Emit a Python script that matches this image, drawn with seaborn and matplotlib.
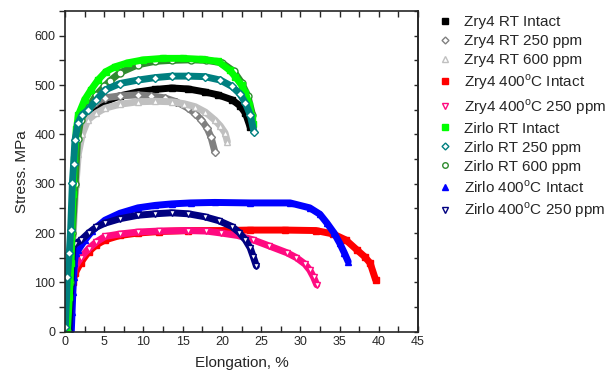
import pandas as pd
import matplotlib
matplotlib.use('Agg')
import matplotlib.pyplot as plt
from matplotlib.lines import Line2D
from matplotlib.ticker import MultipleLocator
import seaborn as sns

# Stress-strain curves (elongation %, stress MPa)
zry4_rt_intact_x = [0.2, 0.6, 0.95, 1.3, 1.6, 2.0, 2.9, 4.0, 5.1, 7.0, 9.3, 11.5, 13.6, 15.7, 17.8, 19.5, 21.3, 22.3, 23.0, 23.6]
zry4_rt_intact_y = [0, 100, 200, 300, 380, 420, 443, 456, 466, 478, 486, 491, 494, 492, 486, 480, 470, 458, 443, 415]

zry4_rt_250_x = [0.2, 0.6, 0.95, 1.3, 1.6, 2.0, 2.9, 4.0, 5.1, 7.0, 9.3, 11.0, 12.7, 14.2, 15.7, 16.6, 17.4, 18.1, 18.6, 19.1]
zry4_rt_250_y = [0, 100, 200, 300, 375, 415, 450, 465, 474, 478, 480, 478, 474, 466, 453, 442, 429, 413, 395, 365]

zry4_rt_600_x = [0.3, 0.7, 1.05, 1.4, 1.7, 2.2, 2.9, 4.0, 5.1, 7.0, 9.3, 11.5, 13.6, 15.2, 16.6, 17.9, 19.1, 19.8, 20.4, 20.7]
zry4_rt_600_y = [0, 100, 200, 300, 360, 400, 429, 443, 453, 461, 466, 467, 466, 462, 456, 445, 429, 417, 403, 385]

zry4_400_intact_x = [0.4, 0.7, 1.0, 1.3, 2.0, 3.0, 4.0, 5.1, 7.0, 9.3, 12.0, 15.7, 20.0, 23.6, 28.0, 32.0, 34.2, 35.8, 37.2, 38.2, 38.9, 39.6]
zry4_400_intact_y = [0, 50, 100, 119, 140, 162, 176, 186, 195, 200, 203, 205, 205, 206, 206, 205, 198, 186, 166, 152, 139, 105]

zry4_400_250_x = [0.3, 0.6, 0.9, 1.3, 2.0, 3.0, 4.0, 5.1, 7.0, 9.3, 12.0, 15.7, 18.0, 19.9, 22.0, 24.0, 26.0, 28.3, 29.5, 30.6, 31.2, 31.7, 32.1]
zry4_400_250_y = [0, 50, 100, 132, 150, 168, 182, 193, 198, 202, 204, 205, 204, 200, 195, 186, 174, 160, 150, 137, 125, 110, 95]

zirlo_rt_intact_x = [0.3, 0.55, 0.75, 1.0, 1.2, 1.45, 1.7, 2.5, 3.3, 4.2, 5.2, 6.4, 8.0, 10.0, 12.5, 15.0, 17.5, 19.5, 21.0, 21.7, 22.5, 23.0, 23.5, 23.8, 24.0]
zirlo_rt_intact_y = [0, 70, 140, 280, 350, 410, 439, 470, 490, 510, 527, 537, 545, 551, 554, 554, 552, 548, 530, 517, 500, 484, 460, 436, 420]

zirlo_rt_250_x = [0.05, 0.3, 0.55, 0.72, 0.94, 1.1, 1.27, 1.66, 2.2, 2.9, 4.0, 5.1, 7.0, 9.3, 11.5, 13.6, 15.7, 17.8, 19.8, 21.3, 22.3, 23.0, 23.6, 24.1]
zirlo_rt_250_y = [10, 111, 160, 206, 301, 340, 388, 423, 440, 449, 470, 490, 503, 510, 515, 518, 518, 517, 510, 497, 482, 463, 440, 405]

zirlo_rt_600_x = [0.2, 0.6, 0.95, 1.3, 1.6, 2.0, 3.0, 4.0, 5.0, 5.7, 7.0, 9.3, 11.5, 13.6, 16.0, 18.0, 20.0, 21.5, 22.5, 23.3, 23.9]
zirlo_rt_600_y = [0, 100, 200, 300, 390, 430, 455, 480, 497, 508, 525, 541, 548, 550, 551, 550, 545, 528, 505, 478, 440]

zirlo_400_intact_x = [0.8, 0.9, 1.0, 1.1, 1.2, 1.36, 1.7, 2.5, 3.5, 5.1, 7.0, 9.3, 11.5, 13.6, 16.0, 19.1, 23.6, 28.7, 31.2, 32.5, 33.4, 34.3, 35.0, 35.6, 36.1]
zirlo_400_intact_y = [0, 40, 80, 110, 140, 159, 166, 185, 205, 226, 240, 251, 256, 259, 261, 262, 261, 261, 251, 238, 220, 200, 180, 160, 142]

zirlo_400_250_x = [0.5, 0.75, 1.0, 1.3, 2.0, 3.0, 4.0, 5.1, 7.0, 9.3, 11.5, 13.6, 15.7, 17.8, 19.6, 21.3, 22.2, 23.0, 23.6, 24.0, 24.4]
zirlo_400_250_y = [0, 90, 172, 178, 185, 200, 212, 220, 229, 236, 239, 241, 239, 233, 225, 213, 201, 186, 170, 152, 133]

labels = ['Zry4 RT Intact', 'Zry4 RT 250 ppm', 'Zry4 RT 600 ppm',
          'Zry4 400$^\\mathrm{o}$C Intact', 'Zry4 400$^\\mathrm{o}$C 250 ppm',
          'Zirlo RT Intact', 'Zirlo RT 250 ppm', 'Zirlo RT 600 ppm',
          'Zirlo 400$^\\mathrm{o}$C Intact', 'Zirlo 400$^\\mathrm{o}$C 250 ppm']

curves = [
    (zry4_rt_intact_x, zry4_rt_intact_y),
    (zry4_rt_250_x, zry4_rt_250_y),
    (zry4_rt_600_x, zry4_rt_600_y),
    (zry4_400_intact_x, zry4_400_intact_y),
    (zry4_400_250_x, zry4_400_250_y),
    (zirlo_rt_intact_x, zirlo_rt_intact_y),
    (zirlo_rt_250_x, zirlo_rt_250_y),
    (zirlo_rt_600_x, zirlo_rt_600_y),
    (zirlo_400_intact_x, zirlo_400_intact_y),
    (zirlo_400_250_x, zirlo_400_250_y),
]

# colour, marker, filled, draw order
styles = [
    ('#000000', 's', True, 2.0),
    ('#808080', 'D', False, 2.0),
    ('#c0c0c0', '^', False, 2.0),
    ('#ff0000', 's', True, 2.0),
    ('#ff0a80', 'v', False, 2.0),
    ('#00ff00', 's', True, 2.3),
    ('#008080', 'D', False, 2.4),
    ('#2e8b2e', 'o', False, 2.2),
    ('#0000ff', '^', True, 2.0),
    ('#000080', 'v', False, 2.0),
]

sns.set_style('ticks')
plt.rcParams['font.family'] = ['Liberation Sans', 'DejaVu Sans']
plt.rcParams['mathtext.fontset'] = 'custom'
plt.rcParams['mathtext.rm'] = 'Liberation Sans'

fig = plt.figure(figsize=(6.05, 3.83), dpi=100)
ax = fig.add_axes([65 / 605, 1 - 331.7 / 383, 353 / 605, 320.7 / 383])

for (xs, ys), (col, mk, filled, z) in zip(curves, styles):
    df = pd.DataFrame({'x': xs, 'y': ys})
    sns.lineplot(data=df, x='x', y='y', ax=ax, sort=False, estimator=None,
                 color=col, linewidth=5, marker=mk, markersize=5 if mk != 'D' else 4,
                 markerfacecolor=col if filled else 'white', markeredgecolor=col,
                 markeredgewidth=1.0, zorder=z, legend=False)

ax.set_xlim(0, 45)
ax.set_ylim(0, 650)
ax.xaxis.set_major_locator(MultipleLocator(5))
ax.xaxis.set_minor_locator(MultipleLocator(2.5))
ax.yaxis.set_major_locator(MultipleLocator(100))
ax.yaxis.set_minor_locator(MultipleLocator(50))
ax.tick_params(axis='x', which='both', direction='in', length=4, width=1, labelsize=9, pad=3,
               top=True, labeltop=False)
ax.tick_params(axis='y', which='both', direction='out', length=4, width=1, labelsize=9, pad=3,
               right=False)
for sp in ax.spines.values():
    sp.set_visible(True)
    sp.set_linewidth(1.2)

# right-hand axis with small inward ticks, no labels
rax = ax.secondary_yaxis('right')
rax.yaxis.set_major_locator(MultipleLocator(100))
rax.yaxis.set_minor_locator(MultipleLocator(50))
rax.tick_params(which='both', direction='in', length=3, width=1, labelright=False)
rax.spines['right'].set_linewidth(1.2)

ax.set_xlabel('Elongation, %', fontsize=11, labelpad=6)
ax.set_ylabel('Stress. MPa', fontsize=11, labelpad=4)

handles = []
for (col, mk, filled, z) in styles:
    handles.append(Line2D([], [], linestyle='none', marker=mk, markersize=4 if mk != 'D' else 3.5,
                          color=col, markerfacecolor=col if filled else 'white',
                          markeredgecolor=col, markeredgewidth=1.0))
fig.legend(handles, labels, loc='upper left', bbox_to_anchor=(430 / 605, 1 - 9 / 383),
           frameon=False, fontsize=11, labelspacing=0.33, handlelength=1.2,
           handletextpad=0.6, borderaxespad=0)

fig.savefig('out.png', dpi=100)
